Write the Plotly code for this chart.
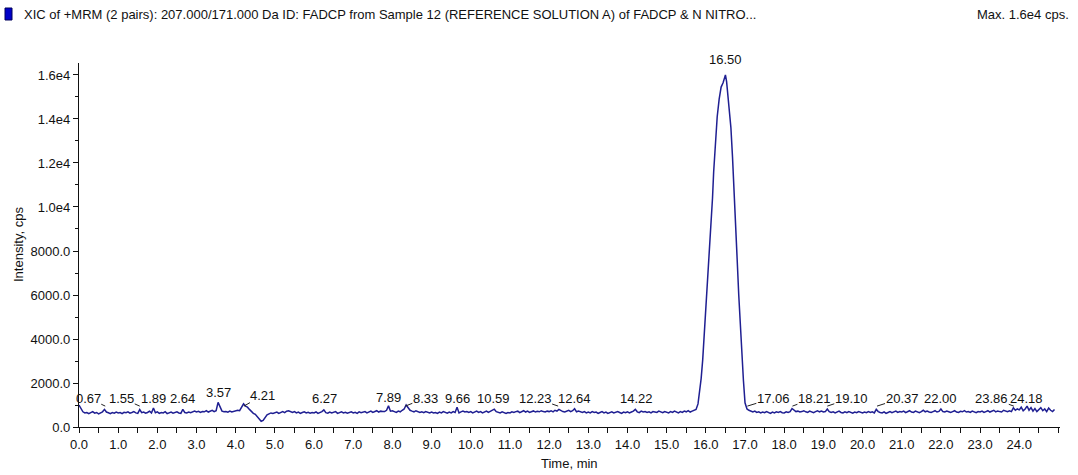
import plotly.graph_objects as go

# ---------------- data ----------------
# baseline before the peak, 0.00 .. 15.70 min, every 0.05 min
pre_vals = [
    1000, 820, 690, 640, 660, 610, 650, 700, 630, 660, 600, 640, 690, 800, 680, 650, 610, 660, 630, 680,
    640, 660, 610, 670, 650, 690, 630, 660, 700, 640, 620, 790, 650, 680, 630, 660, 720, 640, 860, 650,
    690, 620, 660, 640, 700, 610, 650, 680, 630, 660, 690, 640, 620, 800, 660, 640, 680, 650, 700, 720,
    680, 710, 660, 700, 690, 740, 680, 720, 760, 700, 740, 1120, 880, 720, 690, 700, 670, 720, 680, 700,
    720, 760, 740, 880, 1050, 950, 900, 800, 700, 620, 580, 480, 400, 260, 300, 420, 550, 600, 640, 620,
    640, 680, 620, 660, 700, 650, 720, 740, 690, 660, 700, 640, 680, 620, 660, 690, 640, 670, 630, 660,
    640, 690, 620, 660, 700, 780, 650, 630, 680, 640, 660, 700, 620, 650, 690, 640, 670, 630, 660, 690,
    640, 670, 620, 690, 650, 660, 700, 640, 680, 720, 660, 700, 740, 680, 720, 700, 700, 760, 960, 720,
    740, 700, 660, 720, 690, 760, 820, 1000, 880, 760, 720, 690, 740, 700, 660, 690, 650, 700, 660, 640,
    680, 640, 660, 620, 680, 640, 700, 660, 630, 680, 640, 700, 660, 900, 640, 690, 720, 680, 700, 660,
    700, 640, 680, 720, 660, 700, 640, 690, 720, 660, 700, 760, 810, 700, 660, 640, 690, 650, 620, 660,
    640, 690, 660, 700, 720, 650, 690, 740, 680, 720, 660, 700, 730, 680, 710, 690, 740, 700, 680, 720,
    700, 740, 690, 760, 720, 800, 740, 700, 680, 720, 760, 700, 740, 830, 690, 720, 680, 660, 700, 640,
    680, 640, 700, 660, 680, 620, 660, 700, 640, 680, 620, 660, 690, 640, 670, 700, 660, 620, 680, 650,
    690, 640, 680, 720, 800, 690, 650, 720, 680, 700, 660, 690, 640, 700, 680, 660, 720, 690, 650, 700,
    670, 640, 700, 660, 720, 680, 640, 700, 660, 720, 690, 740, 680, 720, 760,
]
pre_start = 0.0
step = 0.05

# main peak (FADCP, 16.50 min)
peak_times = [15.75, 15.80, 15.84, 15.88, 15.92, 15.97, 16.03, 16.08, 16.13, 16.17, 16.20,
              16.25, 16.29, 16.34, 16.39, 16.44, 16.47, 16.50, 16.53, 16.56, 16.60, 16.64,
              16.68, 16.73, 16.77, 16.80, 16.84, 16.88, 16.92, 16.96, 17.00]
peak_vals = [800, 1050, 1540, 2200, 3050, 4500, 6100, 7600, 9100, 10400, 11600,
             13000, 14100, 14900, 15450, 15650, 15850, 16000, 15700, 15150, 14400, 13600,
             12300, 10600, 9000, 7600, 6000, 4500, 3200, 2100, 1100]

# baseline after the peak, 17.05 .. 24.90 min, every 0.05 min
post_vals = [
    820, 760, 700, 680, 720, 660, 690, 640, 680, 650, 700, 660, 620, 680, 640, 690, 660, 700, 650,
    640, 690, 660, 700, 840, 760, 700, 720, 680, 700, 740, 690, 660, 720, 680, 650, 700, 740, 690, 720,
    680, 700, 820, 700, 660, 690, 640, 680, 720, 660, 640, 690, 650, 700, 670, 630, 680, 650, 700, 660,
    640, 680, 650, 700, 660, 690, 640, 800, 700, 660, 640, 690, 620, 660, 700, 650, 690, 720, 660, 700,
    680, 720, 650, 700, 740, 680, 660, 720, 690, 650, 700, 760, 690, 720, 680, 660, 700, 740, 680, 710,
    820, 700, 680, 720, 690, 660, 700, 740, 680, 660, 710, 690, 740, 680, 700, 660, 720, 690, 650, 700,
    680, 720, 660, 700, 740, 680, 720, 760, 690, 730, 700, 680, 760, 720, 700, 740, 700, 870, 760, 820,
    780, 900, 740, 820, 950, 760, 880, 720, 840, 700, 780, 880, 740, 820, 700, 860, 760, 700, 800,
]
post_start = 17.05

# peak labels
label_text = ["0.67", "1.55", "1.89", "2.64", "3.57", "4.21", "6.27", "7.89", "8.33", "9.66",
              "10.59", "12.23", "12.64", "14.22", "16.50", "17.06", "18.21", "19.10", "20.37",
              "22.00", "23.86", "24.18"]
label_time = [float(t) for t in label_text]

y_tick_vals = [0, 2000, 4000, 6000, 8000, 10000, 12000, 14000, 16000]
y_tick_text = ["0.0", "2000.0", "4000.0", "6000.0", "8000.0", "1.0e4", "1.2e4", "1.4e4", "1.6e4"]
x_tick_vals = list(range(0, 25))
x_tick_text = ["%.1f" % v for v in x_tick_vals]

title_text = ("XIC of +MRM (2 pairs): 207.000/171.000 Da ID: FADCP from Sample 12 "
              "(REFERENCE SOLUTION A) of FADCP & N NITRO...")
max_text = "Max. 1.6e4 cps."

# ---------------- styling / layout ----------------
pre_times = [round(pre_start + i * step, 2) for i in range(len(pre_vals))]
post_times = [round(post_start + i * step, 2) for i in range(len(post_vals))]
times = pre_times + peak_times + post_times
vals = pre_vals + peak_vals + post_vals

FONT = "Liberation Sans Narrow, Arial Narrow, Arial, Liberation Sans, sans-serif"
LINE = "#1f1f92"
TXT = "#111111"

fig = go.Figure()
fig.add_trace(go.Scatter(x=times, y=vals, mode="lines",
                         line=dict(color=LINE, width=1.5), hoverinfo="skip"))

# label placement (pixel offsets of text centre from the anchor point)
x_off = {"0.67": -17, "1.55": -18, "4.21": 19, "8.33": 20, "12.23": -23,
         "17.06": 26, "18.21": 22, "19.10": 24, "20.37": 25, "23.86": -22}
y_off = {"3.57": -14, "4.21": -11, "7.89": -9, "16.50": -15}
ANCHOR = 950
for txt, t in zip(label_text, label_time):
    shifted = txt in x_off
    anchor_y = 16000 if txt == "16.50" else ANCHOR
    fig.add_annotation(x=t, y=anchor_y, xref="x", yref="y", text=txt,
                       showarrow=True, ax=x_off.get(txt, 0), ay=y_off.get(txt, -8),
                       arrowhead=0, arrowwidth=1, standoff=0,
                       arrowcolor="#222222" if shifted else "rgba(0,0,0,0)",
                       font=dict(family=FONT, size=13, color=TXT),
                       borderpad=0)

W, H = 1078, 475
L, R, T, B = 79, 18, 63, 48
pw, ph = W - L - R, H - T - B


def px_x(px):
    return (px - L) / pw


def px_y(py):
    return (H - B - py) / ph


fig.add_annotation(x=px_x(22), y=px_y(14), xref="paper", yref="paper", text=title_text,
                   showarrow=False, xanchor="left", yanchor="middle",
                   font=dict(family=FONT, size=13, color=TXT))
fig.add_annotation(x=px_x(1071), y=px_y(14), xref="paper", yref="paper", text=max_text,
                   showarrow=False, xanchor="right", yanchor="middle",
                   font=dict(family=FONT, size=13, color=TXT))
fig.add_shape(type="rect", xref="paper", yref="paper",
              x0=px_x(5), x1=px_x(12), y0=px_y(20), y1=px_y(8),
              fillcolor="#0000c8", line=dict(color="#00005a", width=1))
fig.add_annotation(x=px_x(18), y=0.5, xref="paper", yref="paper", text="Intensity, cps",
                   textangle=-90, showarrow=False, xanchor="center", yanchor="middle",
                   font=dict(family=FONT, size=13, color=TXT))
fig.add_annotation(x=0.5, y=px_y(463), xref="paper", yref="paper", text="Time, min",
                   showarrow=False, xanchor="center", yanchor="middle",
                   font=dict(family=FONT, size=13, color=TXT))

fig.update_layout(
    width=W, height=H, margin=dict(l=L, r=R, t=T, b=B),
    paper_bgcolor="white", plot_bgcolor="white", showlegend=False,
    xaxis=dict(range=[0, 25.04], tickvals=x_tick_vals, ticktext=x_tick_text,
               ticks="outside", ticklen=5, tickcolor=TXT, tickwidth=1,
               showline=True, linecolor=TXT, linewidth=1.3,
               showgrid=False, zeroline=False,
               minor=dict(dtick=0.5, tick0=0, ticks="outside", ticklen=5, tickcolor=TXT),
               tickfont=dict(family=FONT, size=13, color=TXT)),
    yaxis=dict(range=[0, 16545], tickvals=y_tick_vals, ticktext=y_tick_text,
               ticks="outside", ticklen=5, tickcolor=TXT, tickwidth=1,
               showline=True, linecolor=TXT, linewidth=1.3,
               showgrid=False, zeroline=False,
               minor=dict(dtick=1000, tick0=0, ticks="outside", ticklen=3, tickcolor=TXT),
               tickfont=dict(family=FONT, size=13, color=TXT)),
)

fig.write_html("out.html")
